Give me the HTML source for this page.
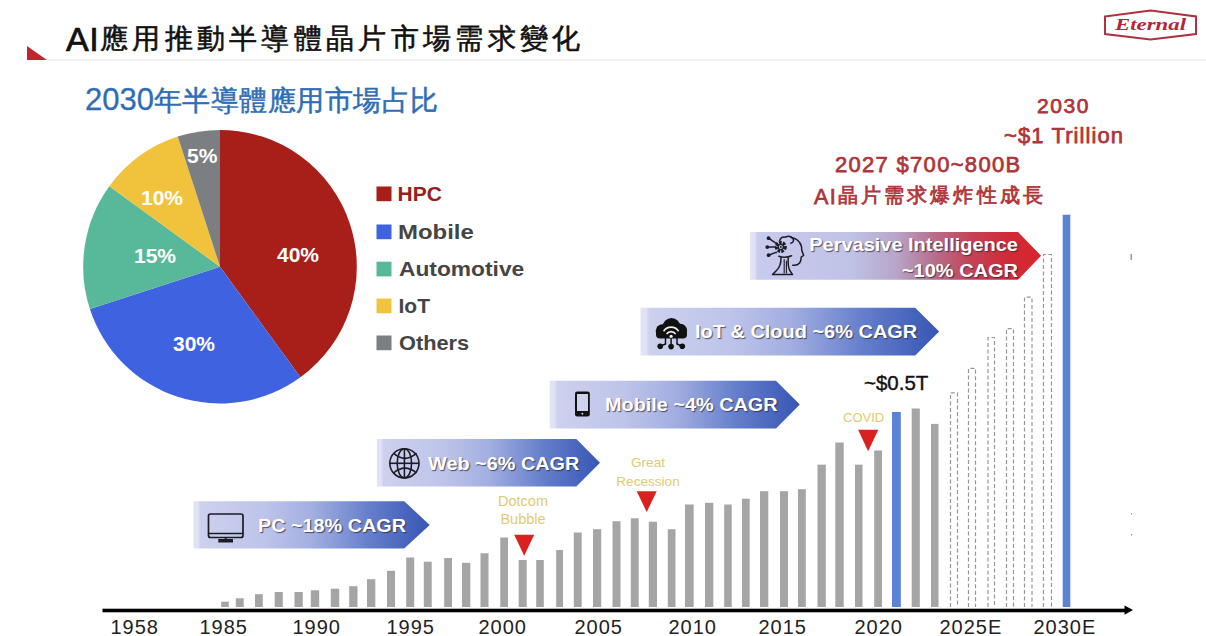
<!DOCTYPE html>
<html><head><meta charset="utf-8">
<style>
html,body{margin:0;padding:0;background:#fff;}
#root{position:relative;width:1206px;height:636px;overflow:hidden;background:#fff;font-family:"Liberation Sans",sans-serif;}
.t{position:absolute;white-space:nowrap;}
svg{position:absolute;left:0;top:0;}
.bn{position:absolute;white-space:nowrap;color:#fff;font-weight:bold;text-shadow:1px 1px 1px rgba(40,40,60,.75);}
.yr{position:absolute;top:616.5px;font-size:20px;line-height:20px;color:#222;white-space:nowrap;letter-spacing:1px;margin-left:-1.5px;}
</style></head><body><div id="root">
<svg width="1206" height="636" viewBox="0 0 1206 636">
<defs>
<linearGradient id="gb" x1="0" y1="0" x2="1" y2="0">
<stop offset="0" stop-color="#e2e4f4"/><stop offset="0.018" stop-color="#e0e2f4"/><stop offset="0.03" stop-color="#cdd1ee"/><stop offset="0.3" stop-color="#bec4ea"/><stop offset="0.5" stop-color="#a3afe1"/><stop offset="0.75" stop-color="#647dcb"/><stop offset="1" stop-color="#3756b4"/>
</linearGradient>
<linearGradient id="gr" x1="0" y1="0" x2="1" y2="0">
<stop offset="0" stop-color="#e2e4f4"/><stop offset="0.015" stop-color="#e0e2f4"/><stop offset="0.025" stop-color="#c8cbed"/><stop offset="0.35" stop-color="#c0c2e6"/><stop offset="0.5" stop-color="#b7a6c9"/><stop offset="0.63" stop-color="#b76f8d"/><stop offset="0.76" stop-color="#c44257"/><stop offset="0.88" stop-color="#d02b38"/><stop offset="1" stop-color="#d8252e"/>
</linearGradient>
</defs>
<!-- header -->
<polygon points="27,46 27,60 47,60" fill="#c0262e"/>
<rect x="47" y="59.5" width="1159" height="1" fill="#e6e6e6"/>
<!-- logo -->
<polygon points="1105,16.5 1150.5,10.5 1196,16.5 1196,34 1150.5,39.5 1105,34" fill="none" stroke="#b03242" stroke-width="2"/>
<text x="1115" y="29.5" font-family="Liberation Serif" font-style="italic" font-weight="bold" font-size="17" fill="#b0283a" textLength="71" lengthAdjust="spacingAndGlyphs">Eternal</text>
<!-- pie -->
<path d="M220 266.7 L220.00 129.90 A136.8 136.8 0 0 1 300.41 377.37 Z" fill="#a81f1a"/>
<path d="M220 266.7 L300.41 377.37 A136.8 136.8 0 0 1 89.90 308.97 Z" fill="#3f62e0"/>
<path d="M220 266.7 L89.90 308.97 A136.8 136.8 0 0 1 109.33 186.29 Z" fill="#58b99a"/>
<path d="M220 266.7 L109.33 186.29 A136.8 136.8 0 0 1 177.73 136.60 Z" fill="#f1c33c"/>
<path d="M220 266.7 L177.73 136.60 A136.8 136.8 0 0 1 220.00 129.90 Z" fill="#7c7f82"/>
<!-- legend squares -->
<rect x="376.5" y="186.5" width="15" height="14.7" fill="#a81f1a"/>
<rect x="376.5" y="224.5" width="15" height="14.7" fill="#3f62e0"/>
<rect x="376.5" y="261.7" width="15" height="14.7" fill="#58b99a"/>
<rect x="376.5" y="298.6" width="15" height="14.7" fill="#f1c33c"/>
<rect x="376.5" y="335.5" width="15" height="14.7" fill="#7c7f82"/>
<!-- banners -->
<polygon points="193.4,501.2 404.2,501.2 429.7,524.9 404.2,548.6 193.4,548.6" fill="url(#gb)"/>
<polygon points="376.9,439 576.3,439 600,462.7 576.3,486.5 376.9,486.5" fill="url(#gb)"/>
<polygon points="549.7,380.8 776,380.8 799.8,404.5 776,428.6 549.7,428.6" fill="url(#gb)"/>
<polygon points="640.6,307.7 915.2,307.7 939.1,331.6 915.2,355.5 640.6,355.5" fill="url(#gb)"/>
<polygon points="750.1,231.9 1018,231.9 1041.1,255.8 1018,279.7 750.1,279.7" fill="url(#gr)"/>
<!-- icons -->
<g fill="none" stroke="#1c1c24" stroke-width="1.7">
<rect x="208.5" y="514" width="34.5" height="23.5" rx="2"/>
<line x1="208.5" y1="533.5" x2="243" y2="533.5" stroke-width="1.3"/>
<line x1="225.7" y1="537.5" x2="225.7" y2="539.5" stroke-width="2"/>
</g>
<rect x="218.3" y="539" width="14.7" height="3.5" fill="#1c1c24"/>
<g fill="none" stroke="#1c1c24" stroke-width="1.6">
<circle cx="404.4" cy="463.3" r="14.6"/>
<ellipse cx="404.4" cy="463.3" rx="7.2" ry="14.6"/>
<line x1="404.4" y1="448.7" x2="404.4" y2="477.9"/>
<line x1="389.8" y1="463.3" x2="419" y2="463.3"/>
<path d="M393.5 453.2 Q405 463.6 416.5 453.2"/>
<path d="M393.5 473 Q405 463.4 416.5 473"/>
</g>
<rect x="575" y="391.4" width="14.8" height="25" rx="2.2" fill="#111"/>
<rect x="577" y="394" width="11" height="17" fill="#cfd2ee"/>
<circle cx="582.4" cy="413.8" r="1" fill="#ccc"/>
<g fill="#111">
<circle cx="671.5" cy="327" r="9"/><circle cx="662.5" cy="331" r="6.8"/><circle cx="680.3" cy="330.5" r="6.8"/><rect x="656" y="330" width="31" height="8.5" rx="4"/>
<circle cx="660.2" cy="346.3" r="2.8"/><circle cx="671.1" cy="346.6" r="2.8"/><circle cx="682.3" cy="346.3" r="2.8"/>
</g>
<g fill="none" stroke="#111" stroke-width="1.5">
<path d="M665.5 338 V344 L660.2 346.3"/><path d="M671.1 338 V346"/><path d="M677 338 V344 L682.3 346.3"/>
</g>
<g fill="none" stroke="#eee" stroke-width="1.6">
<path d="M663.6 331.2 A9 9 0 0 1 678.6 331.2"/><path d="M666.6 334 A5.5 5.5 0 0 1 675.6 334"/>
</g>
<circle cx="671.1" cy="336.3" r="1.6" fill="#eee"/>
<g fill="none" stroke="#1c1c24" stroke-width="1.5" stroke-linejoin="round" stroke-linecap="round">
<path d="M791 237.5 Q799 238.5 801.5 246.5 L801.8 250.5 L803.6 255.3 L801.2 257 Q801.2 261 799.6 263 Q797 266 792.8 265.2"/>
<path d="M779.5 241 Q781 236.3 785.5 237.2 Q789.5 234.8 792.8 238.2 Q794.8 242.3 790.8 243.2"/>
<path d="M768.6 238.2 L775.4 242.9 H776.5 M767.3 247.1 H775.8 M768.6 255.2 L775.2 252.6 H776.5"/>
<path d="M778.8 256.3 Q785 258.5 791.6 255.8"/>
<path d="M781 257.5 Q781.3 266 776.5 270.5 L772.5 274.6 H792.6 L789.8 270.5 Q787.6 266 788.2 257.5"/>
<path d="M784.2 259.5 V273 M786.4 261 V273" stroke-width="1.1"/>
</g>
<circle cx="780.8" cy="247" r="4.4" fill="none" stroke="#1c1c24" stroke-width="3.2" stroke-dasharray="2.6 1.1"/>
<circle cx="780.8" cy="247" r="2.6" fill="none" stroke="#1c1c24" stroke-width="1.3"/>
<g fill="#1c1c24"><circle cx="768.6" cy="238.2" r="1.9"/><circle cx="767.3" cy="247.1" r="1.9"/><circle cx="768.6" cy="255.2" r="1.9"/><circle cx="780.8" cy="247" r="1"/></g>
<!-- bars -->
<rect x="221.2" y="601.7" width="7.6" height="5.3" fill="#a6a4a5"/>
<rect x="235.8" y="598.3" width="7.9" height="8.7" fill="#a6a4a5"/>
<rect x="255.0" y="594.2" width="7.8" height="12.8" fill="#a6a4a5"/>
<rect x="274.7" y="592.0" width="8.1" height="15.0" fill="#a6a4a5"/>
<rect x="294.5" y="592.0" width="8.3" height="15.0" fill="#a6a4a5"/>
<rect x="310.8" y="590.3" width="8.4" height="16.7" fill="#a6a4a5"/>
<rect x="330.8" y="588.7" width="8.4" height="18.3" fill="#a6a4a5"/>
<rect x="349.2" y="586.2" width="8.3" height="20.8" fill="#a6a4a5"/>
<rect x="367.0" y="579.2" width="8.3" height="27.8" fill="#a6a4a5"/>
<rect x="387.0" y="570.8" width="8.0" height="36.2" fill="#a6a4a5"/>
<rect x="406.2" y="557.5" width="8.0" height="49.5" fill="#a6a4a5"/>
<rect x="423.8" y="561.7" width="7.9" height="45.3" fill="#a6a4a5"/>
<rect x="444.2" y="558.0" width="7.8" height="49.0" fill="#a6a4a5"/>
<rect x="462.0" y="562.8" width="8.3" height="44.2" fill="#a6a4a5"/>
<rect x="480.5" y="553.3" width="8.0" height="53.7" fill="#a6a4a5"/>
<rect x="500.3" y="537.5" width="7.7" height="69.5" fill="#a6a4a5"/>
<rect x="518.7" y="560.0" width="8.0" height="47.0" fill="#a6a4a5"/>
<rect x="536.2" y="560.0" width="7.6" height="47.0" fill="#a6a4a5"/>
<rect x="556.2" y="550.0" width="6.8" height="57.0" fill="#a6a4a5"/>
<rect x="573.8" y="532.5" width="7.9" height="74.5" fill="#a6a4a5"/>
<rect x="593.0" y="529.2" width="8.2" height="77.8" fill="#a6a4a5"/>
<rect x="612.5" y="521.2" width="8.0" height="85.8" fill="#a6a4a5"/>
<rect x="630.8" y="518.3" width="7.9" height="88.7" fill="#a6a4a5"/>
<rect x="648.8" y="521.7" width="8.2" height="85.3" fill="#a6a4a5"/>
<rect x="667.8" y="529.2" width="7.7" height="77.8" fill="#a6a4a5"/>
<rect x="685.0" y="504.5" width="8.7" height="102.5" fill="#a6a4a5"/>
<rect x="705.0" y="502.8" width="8.3" height="104.2" fill="#a6a4a5"/>
<rect x="724.2" y="504.5" width="7.5" height="102.5" fill="#a6a4a5"/>
<rect x="742.0" y="498.7" width="7.7" height="108.3" fill="#a6a4a5"/>
<rect x="760.0" y="491.2" width="8.3" height="115.8" fill="#a6a4a5"/>
<rect x="780.0" y="491.2" width="8.0" height="115.8" fill="#a6a4a5"/>
<rect x="798.0" y="489.2" width="7.8" height="117.8" fill="#a6a4a5"/>
<rect x="817.5" y="464.7" width="8.3" height="142.3" fill="#a6a4a5"/>
<rect x="835.3" y="442.5" width="8.4" height="164.5" fill="#a6a4a5"/>
<rect x="855.0" y="464.7" width="7.5" height="142.3" fill="#a6a4a5"/>
<rect x="874.2" y="450.5" width="7.8" height="156.5" fill="#a6a4a5"/>
<rect x="892.0" y="412.0" width="8.8" height="195.0" fill="#5a82d7"/>
<rect x="911.7" y="408.5" width="8.1" height="198.5" fill="#a6a4a5"/>
<rect x="931.0" y="423.9" width="7.5" height="183.1" fill="#a6a4a5"/>
<g fill="none" stroke="#979797" stroke-width="1.2" stroke-dasharray="4 2.5">
<path d="M950.5 607 V392.8 H957.5 V607" />
<path d="M968.5 607 V368.4 H975.5 V607" />
<path d="M988.0 607 V337.5 H994.5 V607" />
<path d="M1006.5 607 V328.7 H1013.5 V607" />
<path d="M1024.5 607 V297.2 H1032.0 V607" />
<path d="M1043.5 607 V254.5 H1051.5 V607" />
</g>
<rect x="1062.7" y="214.7" width="7.6" height="392.3" fill="#5a82d7"/>
<rect x="1130.5" y="254" width="1.5" height="6" fill="#999"/><rect x="1131" y="513" width="1" height="1.5" fill="#888"/><rect x="1131" y="534" width="1" height="1.5" fill="#888"/>
<!-- axis -->
<rect x="102.5" y="608.7" width="1024" height="3.6" fill="#000"/>
<polygon points="1124.5,605.5 1133,610.1 1124.5,614.7" fill="#000"/>
<!-- triangles -->
<polygon points="514.2,534.7 534.2,534.7 524.2,555.8" fill="#d9221f"/>
<polygon points="636.7,491.3 656.7,491.3 646.7,512" fill="#d9221f"/>
<polygon points="858.1,429.7 878.3,429.7 868.1,451.2" fill="#d9221f"/>
</svg>
<div class="t" style="left:66px;top:21.8px;font-size:34px;line-height:34px;letter-spacing:0.5px;color:#111;-webkit-text-stroke:0.7px #111;">AI</div><div class="t" style="left:100px;top:22.5px;font-size:27.5px;line-height:32px;letter-spacing:4.3px;color:#111;-webkit-text-stroke:0.6px #111;">應用推動半導體晶片市場需求變化</div>
<div class="t" style="left:85px;top:85px;font-size:31px;line-height:29px;color:#2f6db5;"><span style="-webkit-text-stroke:0.3px #2f6db5">2030</span><span style="font-size:28.4px;letter-spacing:0.5px;-webkit-text-stroke:0.5px #2f6db5">年半導體應用市場占比</span></div>

<!-- pie labels -->
<div class="t" style="left:277px;top:244px;font-size:21px;line-height:21px;color:#fff;font-weight:bold;">40%</div>
<div class="t" style="left:173px;top:333px;font-size:21px;line-height:21px;color:#fff;font-weight:bold;">30%</div>
<div class="t" style="left:134px;top:245px;font-size:21px;line-height:21px;color:#fff;font-weight:bold;">15%</div>
<div class="t" style="left:141px;top:187px;font-size:21px;line-height:21px;color:#fff;font-weight:bold;">10%</div>
<div class="t" style="left:187px;top:145px;font-size:21px;line-height:21px;color:#fff;font-weight:bold;">5%</div>
<!-- legend -->
<div class="t" id="lgHPC" style="left:397.5px;top:183.5px;font-size:21px;line-height:20px;color:#96201f;font-weight:bold;transform-origin:0 0;">HPC</div>
<div class="t" id="lgMobile" style="transform:scaleX(1.14);left:398px;top:221.5px;font-size:21px;line-height:20px;color:#454545;font-weight:bold;transform-origin:0 0;">Mobile</div>
<div class="t" id="lgAutomotive" style="transform:scaleX(1.084);left:398.5px;top:258.5px;font-size:21px;line-height:20px;color:#454545;font-weight:bold;transform-origin:0 0;">Automotive</div>
<div class="t" id="lgIoT" style="left:398.5px;top:295.5px;font-size:21px;line-height:20px;color:#454545;font-weight:bold;transform-origin:0 0;">IoT</div>
<div class="t" id="lgOthers" style="transform:scaleX(1.036);left:398.5px;top:332.5px;font-size:21px;line-height:20px;color:#454545;font-weight:bold;transform-origin:0 0;">Others</div>
<!-- red annotations -->
<div class="t" style="left:1037px;top:94.5px;font-size:21px;line-height:22px;color:#b0353a;-webkit-text-stroke:0.75px #b0353a;letter-spacing:1.6px;">2030</div>
<div class="t" style="left:1004px;top:125px;font-size:22px;line-height:22px;color:#b0353a;-webkit-text-stroke:0.75px #b0353a;letter-spacing:1.1px;">~$1 Trillion</div>
<div class="t" style="left:835px;top:154px;font-size:22px;line-height:22px;color:#b0353a;-webkit-text-stroke:0.75px #b0353a;letter-spacing:1.3px;">2027 $700~800B</div>
<div class="t" style="left:814px;top:185.5px;font-size:21.5px;line-height:22px;color:#b0353a;-webkit-text-stroke:0.75px #b0353a;letter-spacing:1.5px;">AI</div>
<div class="t" style="left:838px;top:184px;font-size:20px;line-height:22px;color:#b0353a;-webkit-text-stroke:0.75px #b0353a;letter-spacing:3.1px;">晶片需求爆炸性成長</div>
<div class="t" style="left:864px;top:373px;font-size:20.5px;line-height:20px;color:#111;-webkit-text-stroke:0.4px #111;">~$0.5T</div>
<div class="t" style="left:843px;top:411px;font-size:13px;line-height:13px;color:#e0cb74;">COVID</div>
<div class="t" style="left:494px;top:492.2px;width:58px;font-size:14.5px;line-height:18px;color:#e0cb74;text-align:center;">Dotcom<br>Bubble</div>
<div class="t" style="left:612px;top:453px;width:72px;font-size:13.6px;line-height:19px;color:#e0cb74;text-align:center;">Great<br>Recession</div>
<!-- banner texts -->
<div class="bn" style="left:258px;top:517px;font-size:18px;line-height:18px;transform:scaleX(1.1);transform-origin:0 0;">PC ~18% CAGR</div>
<div class="bn" style="left:427.5px;top:453.5px;font-size:19px;line-height:19px;transform:scaleX(1.045);transform-origin:0 0;">Web ~6% CAGR</div>
<div class="bn" style="left:605px;top:395px;font-size:19px;line-height:19px;transform:scaleX(1.045);transform-origin:0 0;">Mobile ~4% CAGR</div>
<div class="bn" style="left:694.5px;top:322px;font-size:19px;line-height:19px;transform:scaleX(1.05);transform-origin:0 0;">IoT &amp; Cloud ~6% CAGR</div>
<div class="bn" style="left:798px;top:232px;font-size:18.5px;line-height:25.7px;text-align:right;width:220px;transform:scaleX(1.08);transform-origin:100% 0;">Pervasive Intelligence<br>~10% CAGR</div>
<!-- years -->
<div class="yr" style="left:112px;">1958</div>
<div class="yr" style="left:201px;">1985</div>
<div class="yr" style="left:294px;">1990</div>
<div class="yr" style="left:388px;">1995</div>
<div class="yr" style="left:480px;">2000</div>
<div class="yr" style="left:576px;">2005</div>
<div class="yr" style="left:670px;">2010</div>
<div class="yr" style="left:760px;">2015</div>
<div class="yr" style="left:856px;">2020</div>
<div class="yr" style="left:941px;">2025E</div>
<div class="yr" style="left:1035px;">2030E</div>
</div></body></html>
